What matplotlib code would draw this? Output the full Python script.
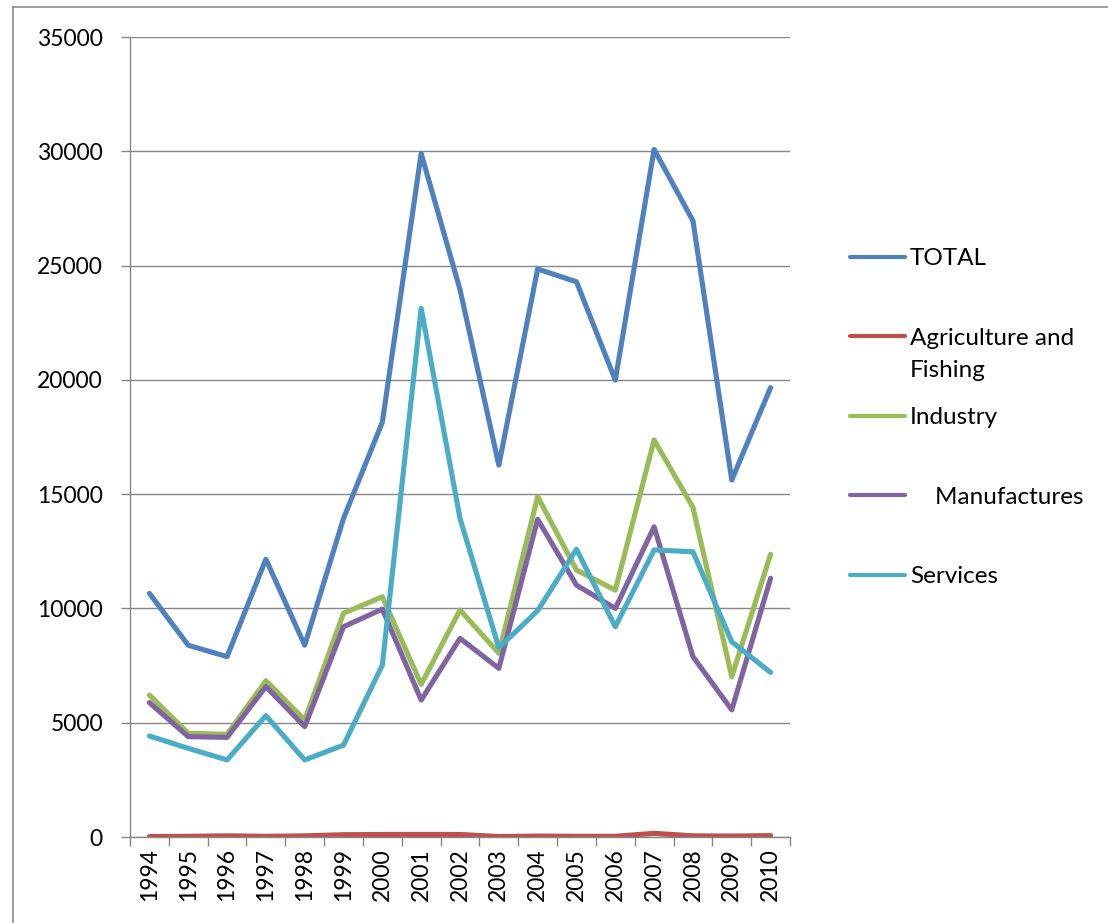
import matplotlib
matplotlib.use("Agg")
import matplotlib.pyplot as plt
from matplotlib.lines import Line2D

plt.rcParams['font.family'] = ['Lato', 'DejaVu Sans']

years = ['1994', '1995', '1996', '1997', '1998', '1999', '2000', '2001', '2002',
         '2003', '2004', '2005', '2006', '2007', '2008', '2009', '2010']

total = [10660, 8390, 7890, 12150, 8390, 13940, 18150, 29900, 23950,
         16270, 24850, 24290, 19990, 30080, 26960, 15620, 19660]
agriculture = [20, 30, 50, 30, 50, 100, 110, 110, 110,
               20, 40, 30, 30, 160, 50, 40, 60]
industry = [6210, 4540, 4490, 6840, 5120, 9790, 10510, 6680, 9930,
            8040, 14890, 11680, 10800, 17370, 14420, 7010, 12370]
manufactures = [5880, 4390, 4360, 6580, 4830, 9200, 9970, 5990, 8690,
                7380, 13900, 11020, 10000, 13570, 7890, 5560, 11320]
services = [4420, 3880, 3370, 5310, 3370, 4020, 7520, 23130, 13940,
            8280, 9900, 12590, 9200, 12560, 12480, 8540, 7200]

series = [
    ("TOTAL", total, "#4F81BD"),
    ("Agriculture and", agriculture, "#C0504D"),
    ("Industry", industry, "#9BBB59"),
    ("    Manufactures", manufactures, "#8064A2"),
    ("Services", services, "#4BACC6"),
]

W, H = 1108, 923
fig = plt.figure(figsize=(W / 100, H / 100), dpi=100)
ax = fig.add_axes([130 / W, 1 - 837 / H, 660 / W, 800 / H])

x = list(range(len(years)))
handles = []
for name, vals, col in series:
    ln, = ax.plot(x, vals, color=col, lw=3.7, solid_joinstyle='round',
                  solid_capstyle='round', label=name)
    handles.append(ln)

grid_col = '#878787'
ax.set_xlim(-0.5, len(years) - 0.5)
ax.set_ylim(0, 35000)
ax.set_yticks(range(0, 35001, 5000))
ax.yaxis.grid(True, color=grid_col, lw=1.0)
ax.set_axisbelow(True)
for s in ['top', 'right']:
    ax.spines[s].set_visible(False)
for s in ['left', 'bottom']:
    ax.spines[s].set_color(grid_col)
    ax.spines[s].set_linewidth(1.0)

ax.set_xticks(x)
ax.set_xticklabels(years, rotation=90, fontsize=16.5, va='top')
ax.set_xticks([i - 0.5 for i in range(len(years) + 1)], minor=True)
ax.tick_params(axis='x', which='major', length=0, pad=8)
ax.tick_params(axis='x', which='minor', length=6.5, width=1.0, color=grid_col, direction='out')
ax.tick_params(axis='y', length=6.5, width=1.0, color=grid_col, direction='out', pad=13, labelsize=16.5)

leg_fs = 17.5
leg = fig.legend(handles=handles, loc='upper left',
                 bbox_to_anchor=(850 / W, 1 - 248 / H), bbox_transform=fig.transFigure,
                 frameon=False, fontsize=leg_fs, borderpad=0, borderaxespad=0,
                 handlelength=55 / (leg_fs * 100 / 72), handletextpad=5 / (leg_fs * 100 / 72),
                 labelspacing=2.41)
for lh in leg.get_lines():
    lh.set_linewidth(3.0)
    lh.set_solid_capstyle('round')

fig.canvas.draw()
bb = leg.get_texts()[1].get_window_extent()
fig.text(bb.x0 / W, (bb.y0 - 32) / H, "Fishing", fontsize=leg_fs, va='bottom', ha='left')

# outer chart border
fig.add_artist(Line2D([13 / W, 1.0], [1 - 6.5 / H, 1 - 6.5 / H], transform=fig.transFigure,
                      color='#8c8c8c', lw=1.2))
fig.add_artist(Line2D([13 / W, 13 / W], [1 - 6.5 / H, 0.0], transform=fig.transFigure,
                      color='#8c8c8c', lw=1.2))

fig.savefig("out.png", dpi=100)
